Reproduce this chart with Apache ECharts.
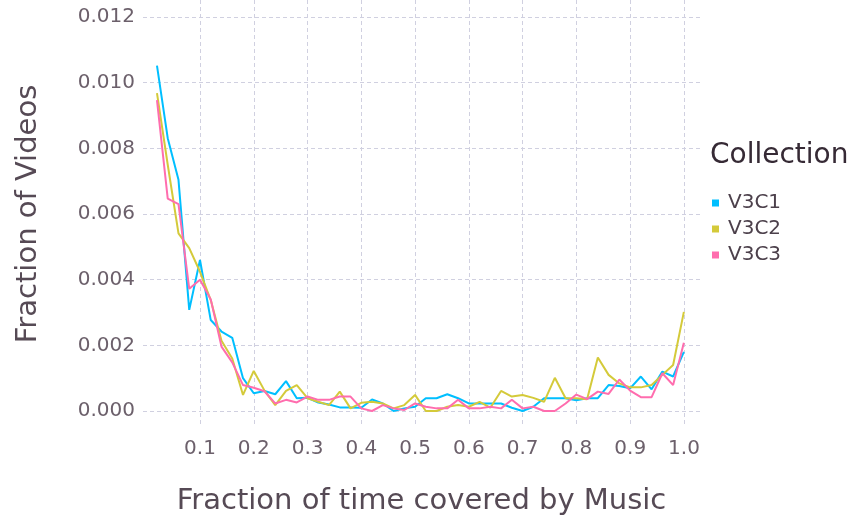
<!DOCTYPE html>
<html>
<head>
<meta charset="utf-8">
<script src="https://cdn.jsdelivr.net/npm/echarts@6/dist/echarts.min.js"></script>
<style>
html,body{margin:0;padding:0;background:#fff;}
#chart{width:857px;height:518px;}
</style>
</head>
<body>
<div id="chart"></div>
<script>
const fractionBins = [0.02,0.04,0.06,0.08,0.10,0.12,0.14,0.16,0.18,0.20,
  0.22,0.24,0.26,0.28,0.30,0.32,0.34,0.36,0.38,0.40,
  0.42,0.44,0.46,0.48,0.50,0.52,0.54,0.56,0.58,0.60,
  0.62,0.64,0.66,0.68,0.70,0.72,0.74,0.76,0.78,0.80,
  0.82,0.84,0.86,0.88,0.90,0.92,0.94,0.96,0.98,1.00];

const v3c1 = [0.01052,0.00831,0.00704,0.00308,0.00460,0.00277,0.00242,0.00223,0.00100,0.00054,
  0.00061,0.00051,0.00091,0.00039,0.00040,0.00026,0.00020,0.00011,0.00011,0.00010,
  0.00035,0.00023,0.00000,0.00008,0.00013,0.00039,0.00039,0.00051,0.00039,0.00023,
  0.00023,0.00023,0.00023,0.00010,0.00000,0.00013,0.00039,0.00039,0.00039,0.00033,
  0.00039,0.00039,0.00079,0.00076,0.00069,0.00105,0.00066,0.00120,0.00105,0.00180];

const v3c2 = [0.00968,0.00750,0.00541,0.00496,0.00424,0.00338,0.00214,0.00160,0.00049,0.00122,
  0.00062,0.00018,0.00061,0.00079,0.00039,0.00028,0.00018,0.00059,0.00008,0.00025,
  0.00028,0.00023,0.00008,0.00018,0.00049,0.00000,0.00000,0.00013,0.00018,0.00013,
  0.00028,0.00010,0.00061,0.00044,0.00049,0.00040,0.00028,0.00101,0.00039,0.00039,
  0.00036,0.00163,0.00110,0.00084,0.00072,0.00072,0.00079,0.00110,0.00140,0.00302];

const v3c3 = [0.00947,0.00647,0.00630,0.00372,0.00400,0.00340,0.00196,0.00148,0.00079,0.00071,
  0.00060,0.00023,0.00034,0.00026,0.00044,0.00034,0.00034,0.00044,0.00044,0.00008,
  0.00000,0.00018,0.00008,0.00003,0.00023,0.00013,0.00008,0.00008,0.00034,0.00008,
  0.00008,0.00013,0.00008,0.00034,0.00008,0.00013,0.00000,0.00000,0.00023,0.00050,
  0.00036,0.00059,0.00052,0.00096,0.00062,0.00042,0.00042,0.00115,0.00079,0.00208];

const seriesNames = ['V3C1','V3C2','V3C3'];
const seriesColors = ['#00BFFF','#D4CA3A','#FF6DAE'];
const seriesValues = [v3c1, v3c2, v3c3];

const FONT = 'DejaVu Sans';
const gridColor = '#D0D0E0';
const labelColor = '#6c606b';
const titleColor = '#564a55';

const chart = echarts.init(document.getElementById('chart'), null, {renderer:'canvas'});
chart.setOption({
  animation: false,
  backgroundColor: '#fff',
  textStyle: {fontFamily: FONT},
  title: {
    text: 'Collection', left: 705, top: 137,
    textStyle: {fontFamily: FONT, fontSize: 28, fontWeight: 'normal', color: '#362a35'}
  },
  legend: {
    orient: 'vertical', left: 707, top: 188,
    itemWidth: 7, itemHeight: 7, itemGap: 6, icon: 'rect',
    data: seriesNames,
    textStyle: {fontFamily: FONT, fontSize: 20, color: '#4c404b', lineHeight: 20, padding: [0,0,0,4]}
  },
  grid: [
    {left: 143, right: 157, top: 17, bottom: 107, containLabel: false, outerBoundsMode: 'none'},
    {left: 200, right: 173, top: 0, bottom: 94, containLabel: false, outerBoundsMode: 'none'}
  ],
  xAxis: [
    {type: 'value', gridIndex: 0, min: -0.006, max: 1.03,
     name: 'Fraction of time covered by Music', nameLocation: 'middle', nameGap: 76,
     nameTextStyle: {fontFamily: FONT, fontSize: 29, color: titleColor},
     axisLine: {show: false}, axisTick: {show: false}, axisLabel: {show: false},
     splitLine: {show: false}},
    {type: 'value', gridIndex: 1, min: 0.1, max: 1.0, interval: 0.1,
     axisLine: {show: false}, axisTick: {show: false},
     axisLabel: {margin: 15, fontFamily: FONT, fontSize: 20, color: labelColor,
       formatter: v => v.toFixed(1)},
     splitLine: {show: true, lineStyle: {color: gridColor, width: 1, type: [4,3]}}}
  ],
  yAxis: [
    {type: 'value', gridIndex: 0, min: 0, max: 0.012, interval: 0.002,
     name: 'Fraction of Videos', nameLocation: 'middle', nameGap: 100,
     nameTextStyle: {fontFamily: FONT, fontSize: 29, color: titleColor},
     axisLine: {show: false}, axisTick: {show: false},
     axisLabel: {margin: 8, fontFamily: FONT, fontSize: 20, color: labelColor,
       formatter: v => v.toFixed(3)},
     splitLine: {show: true, lineStyle: {color: gridColor, width: 1, type: [4,3]}}},
    {type: 'value', gridIndex: 1, min: 0, max: 1, show: false, splitLine: {show: false}}
  ],
  series: seriesNames.map((name, k) => ({
    name: name,
    type: 'line',
    xAxisIndex: 0, yAxisIndex: 0,
    showSymbol: false,
    color: seriesColors[k],
    lineStyle: {width: 2, color: seriesColors[k]},
    data: fractionBins.map((x, i) => [x, seriesValues[k][i]])
  }))
});
</script>
</body>
</html>
